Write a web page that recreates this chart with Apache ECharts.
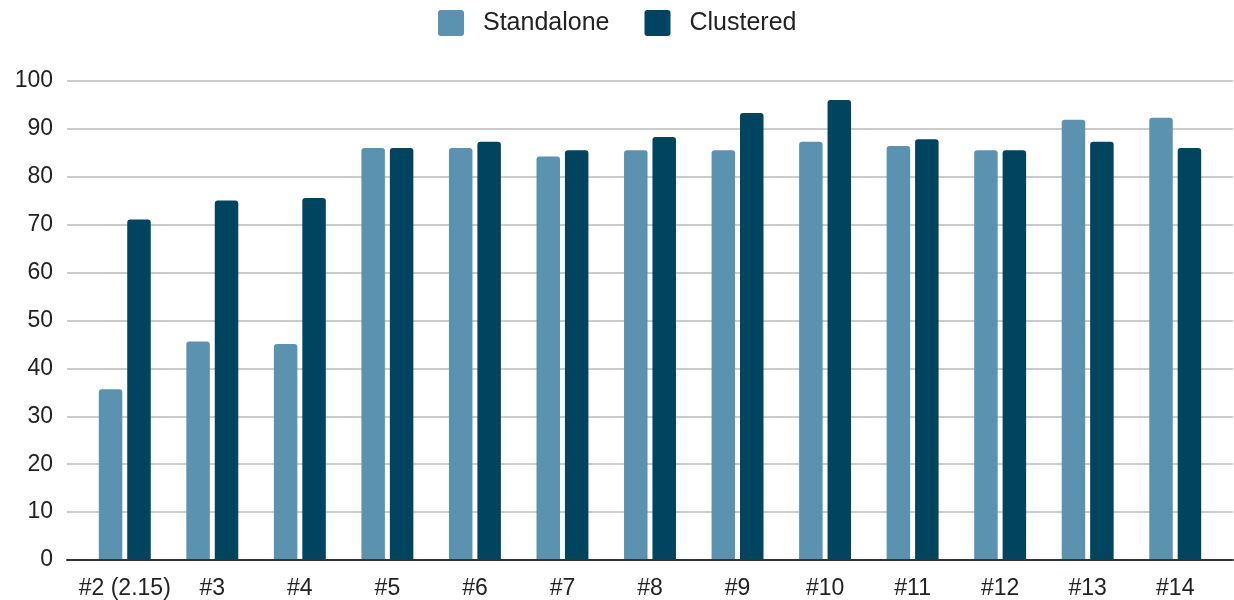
<!DOCTYPE html>
<html>
<head>
<meta charset="utf-8">
<script src="https://cdn.jsdelivr.net/npm/echarts@6/dist/echarts.min.js"></script>
<style>
  html, body { margin: 0; padding: 0; background: #fff; }
  #chart { width: 1234px; height: 600px; }
</style>
</head>
<body>
<div id="chart"></div>
<script>
// Benchmark results per build: standalone vs clustered
const categories = ['#2 (2.15)', '#3', '#4', '#5', '#6', '#7', '#8', '#9', '#10', '#11', '#12', '#13', '#14'];
const standalone = [35.5, 45.5, 45.0, 86.0, 86.0, 84.2, 85.5, 85.5, 87.3, 86.4, 85.5, 91.9, 92.3];
const clustered  = [71.0, 75.0, 75.5, 86.0, 87.3, 85.5, 88.3, 93.3, 96.0, 87.8, 85.5, 87.3, 86.0];
const yTicks = { min: 0, max: 100, interval: 10 };

const FONT = '"Liberation Sans", Arial, sans-serif';
const LIGHT = '#5b92b0';
const DARK = '#01445f';

// square legend marker with slightly softened corners
const LEGEND_ICON = 'path://M3,0 H23 Q26,0 26,3 V23 Q26,26 23,26 H3 Q0,26 0,23 V3 Q0,0 3,0 Z';

const chart = echarts.init(document.getElementById('chart'), null, { renderer: 'canvas' });

chart.setOption({
  animation: false,
  backgroundColor: '#ffffff',
  textStyle: { fontFamily: FONT },
  legend: {
    top: 10,
    left: 438,
    padding: 0,
    itemWidth: 26,
    itemHeight: 26,
    itemGap: 35,
    icon: LEGEND_ICON,
    textStyle: { fontFamily: FONT, fontSize: 25, color: '#222', padding: [0, 0, 0, 14] },
    data: ['Standalone', 'Clustered']
  },
  grid: [
    // full-width frame: value gridlines, y labels and the baseline
    { left: 67, right: 1, top: 81, bottom: 40, containLabel: false },
    // inner area holding the bar groups
    { left: 81, right: 15, top: 81, bottom: 40, containLabel: false }
  ],
  xAxis: [
    {
      gridIndex: 0, type: 'value', min: 0, max: 1,
      axisLine: { show: true, lineStyle: { color: '#333', width: 2 } },
      axisTick: { show: false }, axisLabel: { show: false }, splitLine: { show: false }
    },
    {
      gridIndex: 1, type: 'category', data: categories,
      axisLine: { show: false }, axisTick: { show: false },
      axisLabel: { fontFamily: FONT, fontSize: 23, color: '#222', margin: 18, interval: 0 }
    }
  ],
  yAxis: [
    {
      gridIndex: 0, type: 'value', min: yTicks.min, max: yTicks.max, interval: yTicks.interval,
      axisLine: { show: false }, axisTick: { show: false },
      axisLabel: { fontFamily: FONT, fontSize: 23, color: '#222', margin: 14 },
      splitLine: { show: true, lineStyle: { color: '#cccccc', width: 2 } }
    },
    {
      gridIndex: 1, type: 'value', min: yTicks.min, max: yTicks.max, interval: yTicks.interval,
      show: false, splitLine: { show: false }
    }
  ],
  series: [
    {
      name: 'Standalone', type: 'bar', xAxisIndex: 1, yAxisIndex: 1,
      data: standalone, barWidth: 23.5, barGap: '21%',
      itemStyle: { color: LIGHT, borderRadius: [3, 3, 0, 0] }
    },
    {
      name: 'Clustered', type: 'bar', xAxisIndex: 1, yAxisIndex: 1,
      data: clustered, barWidth: 23.5, barGap: '21%',
      itemStyle: { color: DARK, borderRadius: [3, 3, 0, 0] }
    }
  ]
});
</script>
</body>
</html>
